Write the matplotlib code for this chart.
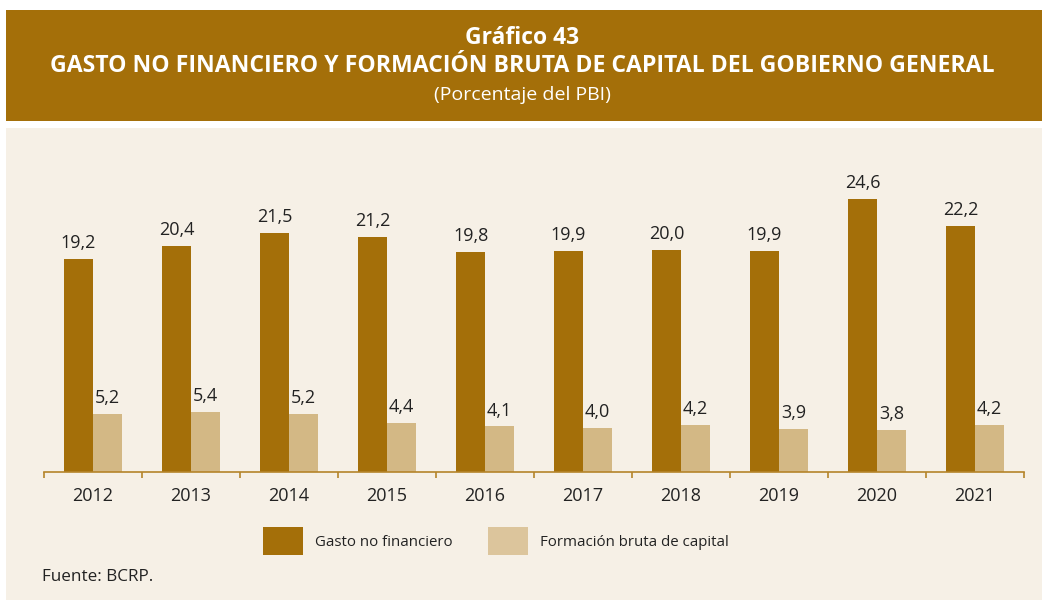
import matplotlib
matplotlib.use("Agg")
import matplotlib.pyplot as plt
import numpy as np
from matplotlib.patches import Rectangle, Patch

years = ["2012", "2013", "2014", "2015", "2016", "2017", "2018", "2019", "2020", "2021"]
gasto = [19.2, 20.4, 21.5, 21.2, 19.8, 19.9, 20.0, 19.9, 24.6, 22.2]
fbk = [5.2, 5.4, 5.2, 4.4, 4.1, 4.0, 4.2, 3.9, 3.8, 4.2]

dark = "#A46F09"
light = "#D3B885"
light_leg = "#DCC59C"
panel = "#F6F0E6"
txt = "#222222"

plt.rcParams["font.family"] = ["Open Sans", "DejaVu Sans"]

W, H = 1044, 605
fig = plt.figure(figsize=(W / 100, H / 100), dpi=100)
fig.patch.set_facecolor("white")

# header band and panel
fig.patches.append(Rectangle((6 / W, 1 - 121 / H), 1036 / W, 111 / H,
                             transform=fig.transFigure, facecolor=dark, edgecolor="none", zorder=-10))
fig.patches.append(Rectangle((6 / W, 1 - 600 / H), 1036 / W, 472 / H,
                             transform=fig.transFigure, facecolor=panel, edgecolor="none", zorder=-10))

fig.text(0.5, 1 - 38 / H, "Gráfico 43", ha="center", va="center", color="white",
         fontsize=16.5, fontweight="bold")
fig.text(0.5, 1 - 66 / H, "GASTO NO FINANCIERO Y FORMACIÓN BRUTA DE CAPITAL DEL GOBIERNO GENERAL",
         ha="center", va="center", color="white", fontsize=16.6, fontweight="bold")
fig.text(0.5, 1 - 95 / H, "(Porcentaje del PBI)", ha="center", va="center", color="white",
         fontsize=14)

ax = fig.add_axes([44 / W, (H - 472) / H, 980 / W, 333 / H])
ax.set_facecolor("none")
x = np.arange(len(years))
bw = 0.295
b1 = ax.bar(x - bw / 2, gasto, bw, color=dark, zorder=2)
b2 = ax.bar(x + bw / 2, fbk, bw, color=light, zorder=2)

for rect, v in zip(b1, gasto):
    ax.annotate(f"{v:.1f}".replace(".", ","), (rect.get_x() + rect.get_width() / 2, v),
                xytext=(0, 5), textcoords="offset points", ha="center", va="bottom",
                fontsize=13, color=txt)
for rect, v in zip(b2, fbk):
    ax.annotate(f"{v:.1f}".replace(".", ","), (rect.get_x() + rect.get_width() / 2, v),
                xytext=(0, 5), textcoords="offset points", ha="center", va="bottom",
                fontsize=13, color=txt)

ax.set_xlim(-0.5, len(years) - 0.5)
ax.set_ylim(0, 30)
for s in ["top", "right", "left"]:
    ax.spines[s].set_visible(False)
ax.spines["bottom"].set_color("#B5842A")
ax.spines["bottom"].set_linewidth(1.2)
ax.set_yticks([])
ax.set_xticks(np.arange(-0.5, len(years), 1.0))
ax.set_xticklabels([])
ax.tick_params(axis="x", direction="out", length=4, color="#B5842A", width=1.2)
ax.set_xticks(x, minor=True)
ax.set_xticklabels(years, minor=True)
ax.tick_params(axis="x", which="minor", length=0, pad=11, labelsize=13, labelcolor=txt)

handles = [Patch(facecolor=dark, edgecolor="none", label="Gasto no financiero"),
           Patch(facecolor=light_leg, edgecolor="none", label="Formación bruta de capital")]
fig.legend(handles=handles, loc="center", bbox_to_anchor=(496 / W, 1 - 541 / H), ncol=2,
           frameon=False, fontsize=10.8, handlelength=2.65, handleheight=2.45,
           handletextpad=0.8, columnspacing=2.4, labelcolor=txt)

fig.text(42 / W, 1 - 577 / H, "Fuente: BCRP.", ha="left", va="center", fontsize=12.3, color=txt)

fig.savefig("out.png", dpi=100, facecolor=fig.get_facecolor())
